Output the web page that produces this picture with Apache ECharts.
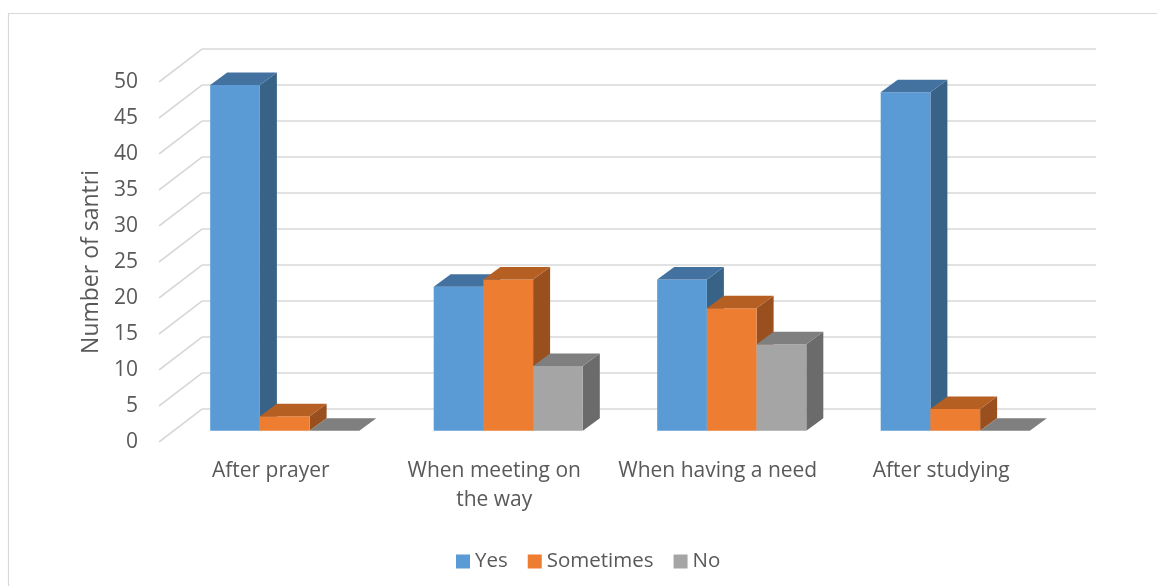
<!DOCTYPE html>
<html>
<head>
<meta charset="utf-8">
<script src="https://cdn.jsdelivr.net/npm/echarts@6/dist/echarts.min.js"></script>
<style>
html,body{margin:0;padding:0;background:#fff;}
#chart{width:1157px;height:586px;}
</style>
</head>
<body>
<div id="chart"></div>
<script>
const categories = ['After prayer', 'When meeting on the way', 'When having a need', 'After studying'];
const seriesNames = ['Yes', 'Sometimes', 'No'];
const yesValues = [48, 20, 21, 47];
const sometimesValues = [2, 21, 17, 3];
const noValues = [0, 9, 12, 0];
const yTicks = [0, 5, 10, 15, 20, 25, 30, 35, 40, 45, 50];

const seriesValues = [yesValues, sometimesValues, noValues];
const faceColors = [
  { front: '#5B9BD5', top: '#4472A0', side: '#386387' },
  { front: '#ED7D31', top: '#B65F22', side: '#9A501E' },
  { front: '#A5A5A5', top: '#7F7F7F', side: '#6B6B6B' }
];

// 3D geometry (pixels)
const WALL_DX = 43, WALL_DY = -33;     // floor depth (front -> back wall)
const BAR_FX = 14, BAR_FY = -11.3;     // bar front face offset from front plane
const BAR_DX = 17, BAR_DY = -12.5;     // bar depth
const BAR_FRAC = 0.2224;               // bar width as fraction of category band

function wrapLabel(text) {
  const words = text.split(' ');
  const lines = [];
  let cur = '';
  words.forEach(w => {
    const cand = cur ? cur + ' ' + w : w;
    if (cand.length > 18 && cur) { lines.push(cur); cur = w; }
    else cur = cand;
  });
  if (cur) lines.push(cur);
  return lines.join('\n');
}

const chart = echarts.init(document.getElementById('chart'), null, { renderer: 'canvas' });

function barRenderer(sIdx) {
  return function (params, api) {
    const cat = api.value(0);
    const val = api.value(1);
    const p0 = api.coord([cat, 0]);
    const p1 = api.coord([cat, val]);
    const band = api.size([1, 0])[0];
    const bw = band * BAR_FRAC;
    const xL = p0[0] - 1.5 * bw + sIdx * bw + BAR_FX;
    const xR = xL + bw;
    const yB = p0[1] + BAR_FY;
    const yT = p1[1] + BAR_FY;
    const c = faceColors[sIdx];
    const children = [];
    if (yB - yT > 0.5) {
      children.push({
        type: 'polygon',
        shape: { points: [[xR, yT], [xR + BAR_DX, yT + BAR_DY], [xR + BAR_DX, yB + BAR_DY], [xR, yB]] },
        style: { fill: c.side }
      });
      children.push({
        type: 'rect',
        shape: { x: xL, y: yT, width: bw, height: yB - yT },
        style: { fill: c.front }
      });
    }
    children.push({
      type: 'polygon',
      shape: { points: [[xL, yT], [xR, yT], [xR + BAR_DX, yT + BAR_DY], [xL + BAR_DX, yT + BAR_DY]] },
      style: { fill: c.top }
    });
    return { type: 'group', children: children };
  };
}

const barSeries = seriesNames.map((name, s) => ({
  name: name,
  type: 'custom',
  coordinateSystem: 'cartesian2d',
  itemStyle: { color: faceColors[s].front },
  encode: { x: 0, y: 1 },
  data: seriesValues[s].map((v, i) => [i, v]),
  renderItem: barRenderer(s),
  z: 3
}));

const gridSeries = {
  name: 'grid',
  type: 'custom',
  coordinateSystem: 'cartesian2d',
  silent: true,
  encode: { x: 0, y: 1 },
  data: yTicks.map(v => [0, v]),
  renderItem: function (params, api) {
    const cs = params.coordSys;
    const y = api.coord([0, api.value(1)])[1];
    const x0 = cs.x;
    return {
      type: 'polyline',
      shape: { points: [[x0, y], [x0 + WALL_DX, y + WALL_DY], [x0 + cs.width + WALL_DX, y + WALL_DY]] },
      style: { stroke: '#D9D9D9', lineWidth: 1.6, fill: null }
    };
  },
  z: 1
};

const textColor = '#595959';
const fontFam = '"Open Sans", "Noto Sans", sans-serif';

chart.setOption({
  animation: false,
  backgroundColor: '#ffffff',
  graphic: [{
    type: 'rect',
    shape: { x: 8.5, y: 13.5, width: 1200, height: 700 },
    style: { fill: null, stroke: '#D9D9D9', lineWidth: 1.2 },
    silent: true, z: 0
  }],
  grid: { left: 159, right: 104, top: 82, bottom: 144 },
  legend: {
    data: seriesNames,
    left: 451,
    top: 546,
    icon: 'rect',
    itemWidth: 14,
    itemHeight: 14,
    itemGap: 20,
    textStyle: { color: textColor, fontSize: 20.5, fontFamily: fontFam },
    selectedMode: false
  },
  xAxis: {
    type: 'category',
    data: categories,
    axisLine: { show: false },
    axisTick: { show: false },
    splitLine: { show: false },
    axisLabel: {
      color: textColor, fontSize: 21, fontFamily: fontFam,
      margin: 15, lineHeight: 29, interval: 0,
      formatter: wrapLabel
    }
  },
  yAxis: {
    type: 'value',
    min: 0, max: 50, interval: 5,
    name: 'Number of santri',
    nameLocation: 'middle',
    nameRotate: 90,
    nameGap: 55,
    nameTextStyle: { color: textColor, fontSize: 23, fontFamily: fontFam },
    axisLine: { show: false },
    axisTick: { show: false },
    splitLine: { show: false },
    axisLabel: { color: textColor, fontSize: 21, fontFamily: fontFam, margin: 21 }
  },
  series: [gridSeries].concat(barSeries)
});
</script>
</body>
</html>
